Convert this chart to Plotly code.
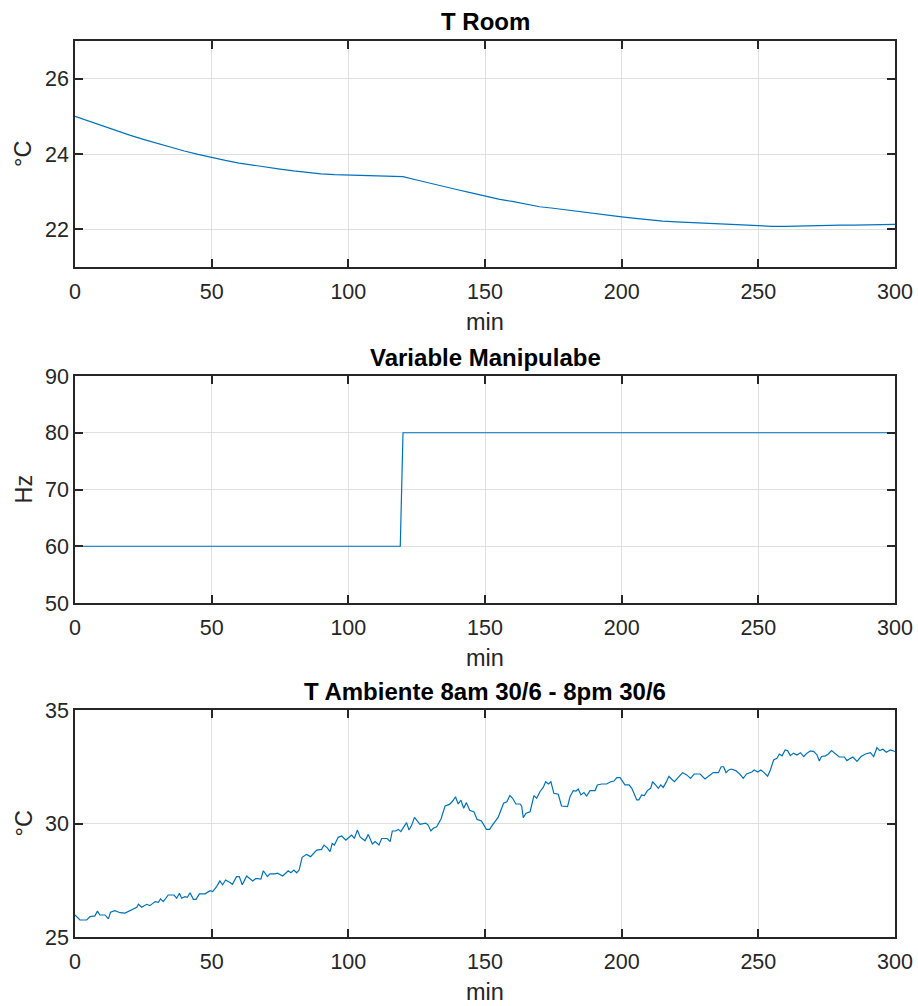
import plotly.graph_objects as go

# ---------------- data ----------------
t_room_min = [0, 5, 10, 15, 20, 25, 30, 35, 40, 45, 50, 55, 60, 65, 70, 75, 80, 85, 90, 95,
              100, 105, 110, 115, 120, 125, 130, 135, 140, 145, 150, 155, 160, 165, 170, 175,
              180, 185, 190, 195, 200, 205, 210, 215, 220, 225, 230, 235, 240, 245, 250, 255,
              260, 265, 270, 275, 280, 285, 290, 295, 300]
t_room_val = [25.0, 24.87, 24.74, 24.62, 24.5, 24.39, 24.28, 24.18, 24.08, 23.99, 23.9, 23.83,
              23.76, 23.7, 23.65, 23.6, 23.55, 23.5, 23.47, 23.45, 23.44, 23.43, 23.42, 23.41,
              23.4, 23.31, 23.22, 23.12, 23.05, 22.97, 22.88, 22.8, 22.74, 22.67, 22.6, 22.56,
              22.51, 22.46, 22.41, 22.37, 22.33, 22.29, 22.25, 22.22, 22.2, 22.18, 22.16, 22.14,
              22.13, 22.11, 22.1, 22.08, 22.08, 22.09, 22.09, 22.1, 22.11, 22.11, 22.12, 22.12,
              22.13]

mv_min = [0, 119, 120, 300]
mv_hz = [60, 60, 80, 80]

amb_min = [
    0, 1.8, 4.3, 5.5, 7.3, 8.2, 9.1, 11, 12.2, 13,
    14.6, 16.5, 18.3, 20.7, 22.6, 23.2, 24.4, 26.2, 27.4, 29.3,
    30.5, 31.3, 32.3, 34.1, 36.2, 37.2, 38.2, 39, 40.2, 41.1,
    42.1, 43.3, 44.3, 45.5, 47.6, 49.4, 50.4, 51.8, 53, 54,
    55.1, 56.7, 57.6, 59.1, 60.1, 61.2, 62.8, 65, 66.2, 68,
    68.9, 70.4, 71.3, 73.2, 74.1, 76, 78, 79, 80.1, 81.1,
    82, 83.1, 84.7, 86.2, 88.4, 90.2, 91.1, 92.3, 93.3, 94.1,
    94.9, 96.3, 97.6, 99.1, 101.2, 102.2, 103.3, 104.3, 106.1, 107.3,
    108.2, 108.8, 109.8, 111.2, 112.2, 114.2, 115.3, 116.1, 117.3, 118.3,
    119.2, 120.1, 121.3, 122.2, 123.2, 124.2, 126.2, 128.3, 129.2, 130.2,
    131.1, 132.3, 133.9, 135.4, 137, 138.2, 139.2, 140.2, 141.2, 142.2,
    143.2, 144.4, 146, 147.1, 148.7, 150.5, 151.7, 152.7, 153.6, 154.8,
    156.8, 158, 159.1, 160.1, 161.3, 162.8, 163.4, 164, 165, 166.5,
    167.9, 168.9, 170.1, 171.3, 172.2, 173.2, 174.1, 175.2, 176.8, 178,
    180.2, 181.1, 182.3, 183.3, 184.1, 185.1, 186.2, 187.2, 188.4, 190.3,
    191.1, 192.7, 194.5, 196, 197.2, 198.2, 199.4, 201.2, 202.7, 203.7,
    204.5, 205.5, 206.3, 207.3, 208.3, 209.4, 210.6, 211.3, 212.4, 213.4,
    214.3, 215.2, 216.2, 217.3, 218.3, 219.3, 220.7, 222.3, 223.8, 225.2,
    226.5, 228.7, 230.5, 232.3, 233.5, 235.4, 236.4, 237.3, 238.2, 239.2,
    240.1, 241.7, 243.2, 244.5, 245.7, 247.6, 248.5, 249.8, 250.9, 252.1,
    253.4, 254.4, 255.6, 256.8, 257.7, 258.7, 259.8, 260.7, 261.7, 262.9,
    264.1, 265.4, 266.6, 267.8, 269.1, 270.3, 271.5, 272.3, 273.1, 274.6,
    275.5, 276.8, 278, 279.6, 281.5, 282.4, 283.7, 284.6, 286.1, 287.6,
    289.2, 291, 292.2, 293.4, 294.4, 295.6, 296.8, 298.3, 300]
amb_val = [
    25.97, 25.75, 25.75, 25.9, 25.93, 26.14, 25.97, 25.97, 25.8, 26.09,
    26.16, 26.07, 26.05, 26.19, 26.31, 26.44, 26.31, 26.44, 26.38, 26.56,
    26.53, 26.68, 26.56, 26.85, 26.85, 26.71, 26.93, 26.71, 26.78, 26.75,
    26.95, 26.66, 26.66, 26.9, 26.9, 27.04, 27.0, 27.22, 27.47, 27.3,
    27.51, 27.4, 27.32, 27.66, 27.66, 27.3, 27.69, 27.47, 27.58, 27.55,
    27.92, 27.66, 27.78, 27.78, 27.81, 27.69, 27.92, 27.83, 27.95, 27.83,
    27.95, 28.51, 28.64, 28.54, 28.83, 28.86, 29.05, 28.93, 28.76, 29.12,
    29.05, 29.39, 29.45, 29.27, 29.49, 29.34, 29.71, 29.41, 29.24, 29.52,
    29.29, 29.1, 29.2, 29.05, 29.34, 29.34, 29.2, 29.67, 29.67, 29.74,
    29.64, 29.79, 30.04, 29.71, 29.93, 30.27, 29.96, 30.02, 29.93, 29.67,
    29.79, 29.86, 30.2, 30.77, 30.84, 30.99, 31.18, 30.86, 31.03, 30.67,
    30.92, 30.58, 30.51, 30.18, 30.11, 29.74, 29.74, 29.93, 30.08, 30.27,
    30.89, 30.96, 31.23, 31.11, 30.86, 30.86, 30.77, 30.26, 30.45, 30.52,
    31.23, 31.11, 31.4, 31.59, 31.84, 31.74, 31.84, 31.33, 31.29, 30.77,
    30.74, 31.18, 31.45, 31.43, 31.52, 31.26, 31.36, 31.21, 31.45, 31.45,
    31.7, 31.74, 31.74, 31.84, 31.87, 32.02, 32.02, 31.7, 31.7, 31.55,
    31.33, 31.04, 31.04, 31.26, 31.23, 31.45, 31.55, 31.84, 31.7, 31.55,
    31.7, 31.59, 31.8, 32.08, 31.95, 31.84, 32.03, 32.24, 32.14, 31.99,
    32.18, 32.18, 31.96, 32.14, 32.24, 32.24, 32.5, 32.5, 32.24, 32.36,
    32.4, 32.33, 32.18, 31.99, 32.18, 32.27, 32.36, 32.27, 32.36, 32.24,
    32.08, 32.36, 32.8, 32.87, 33.06, 32.98, 33.24, 33.21, 32.99, 33.1,
    33.02, 33.12, 32.95, 33.1, 33.2, 33.17, 33.02, 32.75, 32.95, 32.98,
    33.05, 33.21, 33.1, 32.93, 32.93, 32.77, 32.87, 32.93, 32.74, 32.95,
    33.06, 33.12, 32.95, 33.34, 33.21, 33.27, 33.14, 33.24, 33.17]

titles = ["T Room", "Variable Manipulabe", "T Ambiente 8am 30/6 - 8pm 30/6"]
ylabels = ["°C", "Hz", "°C"]
xlabel = "min"

# ---------------- layout geometry (pixels) ----------------
W, H = 918, 1006
X0, X1 = 75, 895
panels = [(41, 267), (376, 603), (710, 937)]

def py(p):
    return 1 - p / H

LINE = "#0072BD"
AX = "#262626"
GRID = "#dfdfdf"
FONT = "Liberation Sans, Arial, Helvetica, sans-serif"

fig = go.Figure()
fig.add_trace(go.Scatter(x=t_room_min, y=t_room_val, mode="lines",
                         line=dict(color=LINE, width=1.2), xaxis="x", yaxis="y"))
fig.add_trace(go.Scatter(x=mv_min, y=mv_hz, mode="lines",
                         line=dict(color=LINE, width=1.2), xaxis="x2", yaxis="y2"))
fig.add_trace(go.Scatter(x=amb_min, y=amb_val, mode="lines",
                         line=dict(color=LINE, width=1.2), xaxis="x3", yaxis="y3"))

yranges = [[21, 27], [50, 90], [25, 35]]
ydticks = [2, 10, 5]

common = dict(showline=True, linecolor=AX, linewidth=1.5, mirror="ticks",
              ticks="inside", ticklen=8, tickwidth=1.5, tickcolor=AX,
              showgrid=True, gridcolor=GRID, gridwidth=1, zeroline=False,
              automargin=False,
              tickfont=dict(family=FONT, size=21.5, color=AX))

layout = dict(width=W, height=H, margin=dict(l=0, r=0, t=0, b=0, pad=0),
              template="none",
              paper_bgcolor="white", plot_bgcolor="white", showlegend=False,
              font=dict(family=FONT, size=20, color=AX))
annotations = []
for i, (top, bot) in enumerate(panels):
    sfx = "" if i == 0 else str(i + 1)
    layout["xaxis" + sfx] = dict(domain=[X0 / W, X1 / W], range=[0, 300], dtick=50,
                                 tick0=0, anchor="y" + sfx, ticklabelstandoff=4, **common)
    layout["yaxis" + sfx] = dict(domain=[py(bot), py(top)], range=yranges[i],
                                 dtick=ydticks[i], tick0=0, anchor="x" + sfx, **common)
    annotations.append(dict(text="<b>" + titles[i] + "</b>", xref="paper", yref="paper",
                            x=(X0 + X1) / 2 / W, y=py(top - 19), xanchor="center",
                            yanchor="middle", showarrow=False,
                            font=dict(family=FONT, size=24, color="black")))
    annotations.append(dict(text=xlabel, xref="paper", yref="paper",
                            x=(X0 + X1) / 2 / W, y=py(bot + 55), xanchor="center",
                            yanchor="middle", showarrow=False,
                            font=dict(family=FONT, size=23.5, color=AX)))
    annotations.append(dict(text=ylabels[i], xref="paper", yref="paper",
                            x=23 / W, y=py((top + bot) / 2), xanchor="center",
                            yanchor="middle", showarrow=False, textangle=-90,
                            font=dict(family=FONT, size=23.5, color=AX)))
layout["annotations"] = annotations
fig.update_layout(**layout)

fig.write_html("out.html")
